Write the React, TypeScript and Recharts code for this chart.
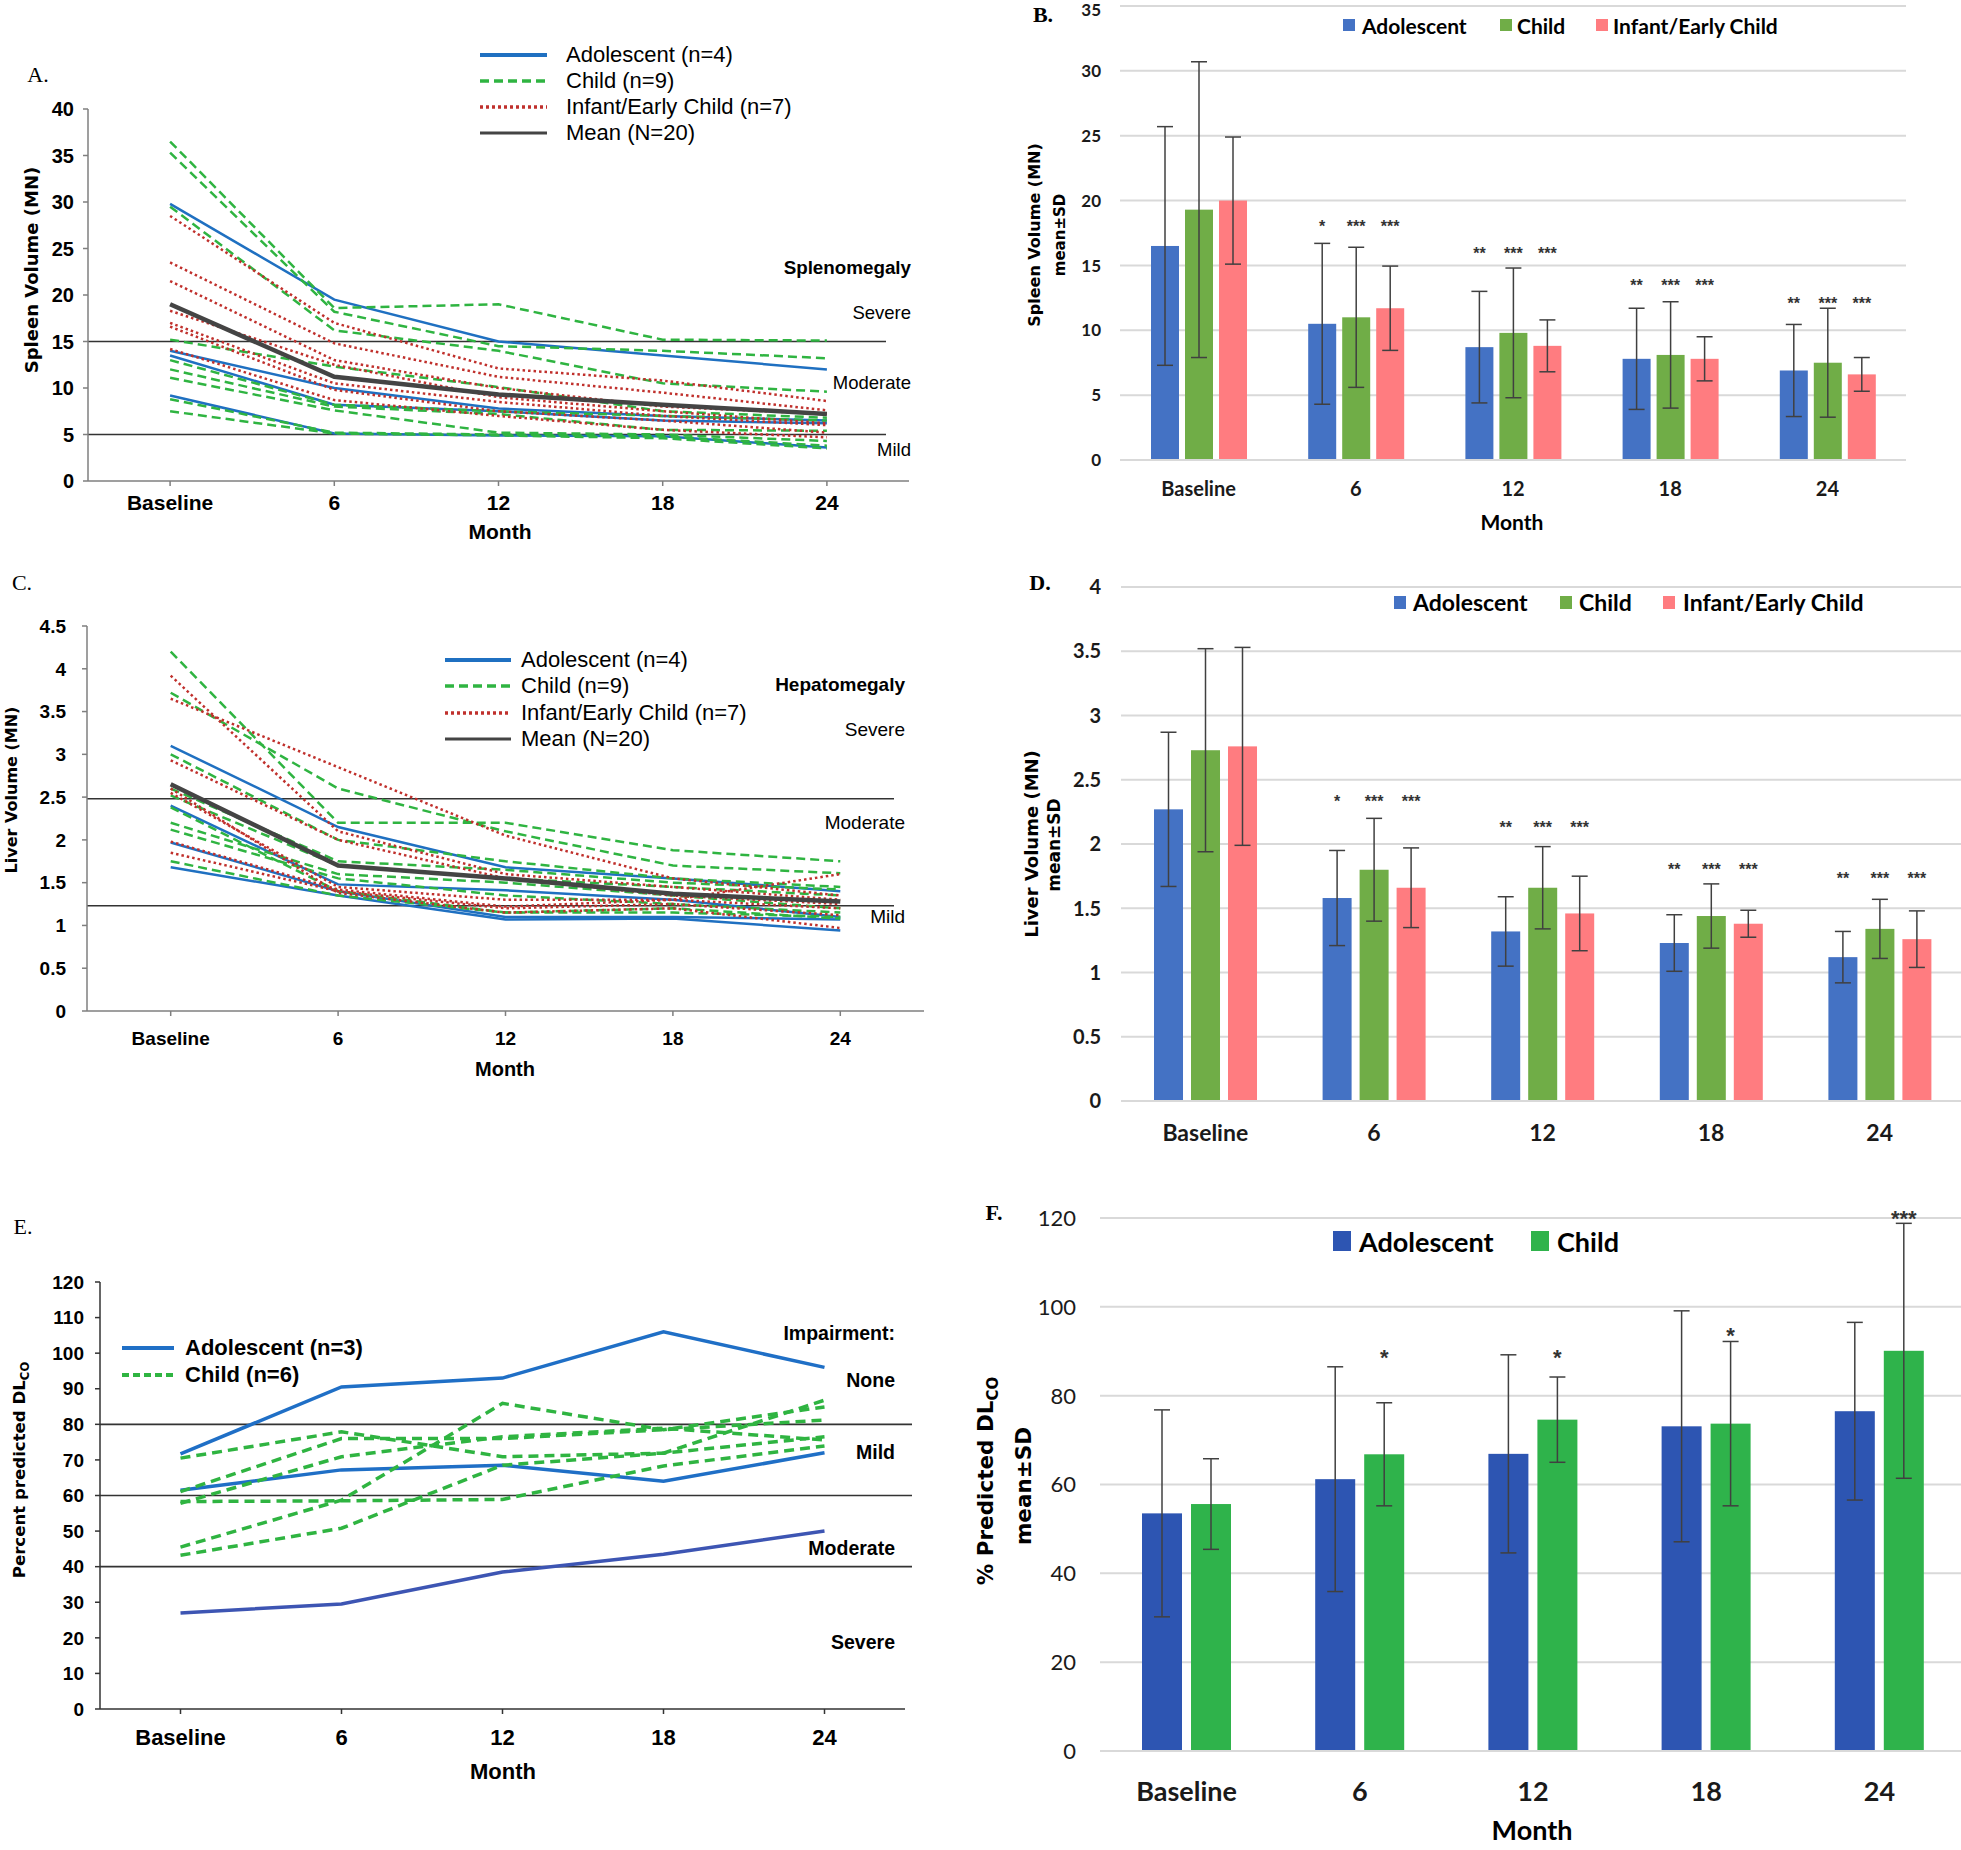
import { LineChart, Line, BarChart, Bar, XAxis, YAxis, CartesianGrid, ReferenceLine, ErrorBar } from "recharts";

const months = ["Baseline", "6", "12", "18", "24"];

// A. spleen volume (MN) per patient
const spleenAdolescent = [
  [29.8, 19.5, 15.0, 13.5, 12.0],
  [14.0, 10.0, 7.8, 7.0, 6.5],
  [13.5, 8.2, 7.5, 6.5, 6.2],
  [9.2, 5.1, 4.9, 4.8, 3.6],
];
const spleenChild = [
  [36.5, 18.6, 19.0, 15.2, 15.1],
  [35.3, 18.2, 14.5, 14.0, 13.2],
  [29.5, 16.2, 14.0, 10.5, 9.6],
  [15.2, 12.3, 10.1, 7.5, 6.8],
  [13.0, 8.2, 7.5, 7.0, 6.5],
  [12.0, 8.0, 7.2, 5.5, 5.4],
  [11.1, 7.6, 5.2, 5.0, 4.3],
  [8.8, 5.2, 5.0, 4.8, 3.8],
  [7.5, 5.1, 4.9, 4.6, 3.5],
];
const spleenInfant = [
  [28.5, 17.0, 12.1, 10.8, 8.6],
  [23.5, 14.8, 11.2, 9.5, 7.6],
  [21.5, 13.0, 10.0, 8.0, 7.2],
  [18.3, 12.5, 9.0, 7.5, 6.2],
  [17.0, 10.5, 8.5, 7.0, 6.0],
  [16.6, 9.8, 7.5, 6.5, 5.2],
  [14.2, 8.7, 7.0, 5.5, 4.7],
];
const spleenMean = [19.0, 11.2, 9.3, 8.2, 7.2];
const spleenCutoffs = [15, 5];
const spleenTicks = [0, 5, 10, 15, 20, 25, 30, 35, 40];

// B. spleen volume mean ± SD
const spleenBarAdolescent = [16.5, 10.5, 8.7, 7.8, 6.9];
const spleenBarChild = [19.3, 11.0, 9.8, 8.1, 7.5];
const spleenBarInfant = [20.0, 11.7, 8.8, 7.8, 6.6];
const spleenSdAdolescent = [9.2, 6.2, 4.3, 3.9, 3.55];
const spleenSdChild = [11.4, 5.4, 5.0, 4.1, 4.2];
const spleenSdInfant = [4.9, 3.25, 2.0, 1.7, 1.3];
const spleenStarsAdolescent = ["", "*", "**", "**", "**"];
const spleenStarsOther = ["", "***", "***", "***", "***"];
const spleenStarLevel = [0, 18.3, 16.2, 13.7, 12.35];
const spleenBarTicks = [0, 5, 10, 15, 20, 25, 30, 35];

// C. liver volume (MN) per patient
const liverAdolescent = [
  [3.1, 2.15, 1.68, 1.55, 1.4],
  [2.4, 1.48, 1.41, 1.3, 1.1],
  [1.97, 1.4, 1.1, 1.1, 1.07],
  [1.68, 1.35, 1.07, 1.08, 0.94],
];
const liverChild = [
  [4.2, 2.2, 2.2, 1.88, 1.75],
  [3.72, 2.6, 2.1, 1.7, 1.61],
  [3.0, 2.0, 1.75, 1.55, 1.45],
  [2.6, 1.75, 1.65, 1.5, 1.42],
  [2.52, 1.7, 1.55, 1.45, 1.35],
  [2.38, 1.4, 1.15, 1.2, 1.08],
  [2.2, 1.6, 1.5, 1.35, 1.2],
  [2.12, 1.55, 1.35, 1.25, 1.15],
  [1.75, 1.35, 1.15, 1.15, 1.1],
];
const liverInfant = [
  [3.92, 2.1, 1.6, 1.45, 1.3],
  [3.65, 2.85, 2.05, 1.55, 1.35],
  [2.93, 2.0, 1.55, 1.35, 1.25],
  [2.6, 1.38, 1.15, 1.2, 0.97],
  [2.55, 1.45, 1.3, 1.3, 1.6],
  [1.98, 1.42, 1.22, 1.3, 1.2],
  [1.85, 1.4, 1.2, 1.25, 1.12],
];
const liverMean = [2.65, 1.7, 1.55, 1.37, 1.28];
const liverCutoffs = [2.48, 1.23];
const liverTicks = [0, 0.5, 1, 1.5, 2, 2.5, 3, 3.5, 4, 4.5];

// D. liver volume mean ± SD
const liverBarAdolescent = [2.27, 1.58, 1.32, 1.23, 1.12];
const liverBarChild = [2.73, 1.8, 1.66, 1.44, 1.34];
const liverBarInfant = [2.76, 1.66, 1.46, 1.38, 1.26];
const liverSdAdolescent = [0.6, 0.37, 0.27, 0.22, 0.2];
const liverSdChild = [0.79, 0.4, 0.32, 0.25, 0.23];
const liverSdInfant = [0.77, 0.31, 0.29, 0.105, 0.22];
const liverStarLevel = [0, 2.36, 2.16, 1.83, 1.76];
const liverBarTicks = [0, 0.5, 1, 1.5, 2, 2.5, 3, 3.5, 4];

// E. percent predicted DLco per patient
const dlcoAdolescent = [
  [71.7, 90.5, 93, 106, 96],
  [61.5, 67.2, 68.5, 64, 72],
  [27, 29.5, 38.5, 43.5, 50],
];
const dlcoChild = [
  [70.5, 77.9, 70.9, 71.9, 76.5],
  [61.1, 76.0, 76.0, 78.5, 81.2],
  [57.8, 70.9, 76.5, 78.9, 75.6],
  [58.3, 58.5, 58.9, 68.3, 73.9],
  [45.5, 58.7, 85.9, 78.5, 84.9],
  [43.2, 50.8, 68.5, 71.9, 86.8],
];
const dlcoCutoffs = [80, 60, 40];
const dlcoTicks = [0, 10, 20, 30, 40, 50, 60, 70, 80, 90, 100, 110, 120];

// F. percent predicted DLco mean ± SD
const dlcoBarAdolescent = [53.5, 61.2, 66.9, 73.1, 76.5];
const dlcoBarChild = [55.6, 66.8, 74.6, 73.7, 90.1];
const dlcoSdAdolescent = [23.3, 25.3, 22.3, 26.0, 20.0];
const dlcoSdChild = [10.2, 11.6, 9.6, 18.5, 28.7];
const dlcoStarsChild = ["", "*", "*", "*", "***"];
const dlcoStarLevel = [0, 89.7, 89.7, 94.6, 121.1];
const dlcoBarTicks = [0, 20, 40, 60, 80, 100, 120];

const SANS = "'Liberation Sans', Arial, Helvetica, sans-serif";
const LATO = "Lato, 'Open Sans', sans-serif";
const WIDE = "'DejaVu Sans', Verdana, sans-serif";
const SERIF = "'Liberation Serif', 'Times New Roman', serif";

const BLUE = "#1f70c1";
const GREEN = "#2fb441";
const RED = "#c0302c";
const MEAN = "#444444";

function lineRows(groups: Record<string, number[][]>, mean?: number[]) {
  return months.map((m, i) => {
    const row: Record<string, string | number> = { m };
    Object.entries(groups).forEach(([k, list]) => list.forEach((s, j) => (row[k + j] = s[i])));
    if (mean) row.mean = mean[i];
    return row;
  });
}

type BarGroup = { key: string; color: string; mean: number[]; sd: number[]; stars?: string[] };

function barRows(groups: BarGroup[], starLevel: number[]) {
  return months.map((m, i) => {
    const row: Record<string, string | number> = { m, starLevel: starLevel[i] };
    groups.forEach((g) => {
      row[g.key] = g.mean[i];
      row[g.key + "Sd"] = g.sd[i];
      row[g.key + "Star"] = g.stars ? g.stars[i] : "";
    });
    return row;
  });
}

function seriesOf(prefix: string, list: number[][], stroke: string | string[], width: number, dash?: string) {
  return list.map((_, j) => ({
    key: prefix + j,
    stroke: Array.isArray(stroke) ? stroke[j] : stroke,
    width,
    dash,
  }));
}

function Txt({ x, y, size, children, weight = 400, font = SANS, align = "center", rotate = 0, color = "#000" }: any) {
  const tx = align === "center" ? "-50%" : align === "right" ? "-100%" : "0";
  return (
    <div
      style={{
        position: "absolute",
        left: x,
        top: y,
        transform: `translate(${tx}, -50%) rotate(${rotate}deg)`,
        fontFamily: font,
        fontSize: size,
        fontWeight: weight,
        color,
        whiteSpace: "nowrap",
        lineHeight: 1,
      }}
    >
      {children}
    </div>
  );
}

function KeyLine({ x1, x2, y, stroke, width, dash }: any) {
  return (
    <svg style={{ position: "absolute", left: x1, top: y - 6 }} width={x2 - x1} height={12}>
      <line x1={0} y1={6} x2={x2 - x1} y2={6} stroke={stroke} strokeWidth={width} strokeDasharray={dash} />
    </svg>
  );
}

function KeySquare({ x, y, w, h, color }: any) {
  return <div style={{ position: "absolute", left: x, top: y - h / 2, width: w, height: h, background: color }} />;
}

function LinePanel({ box, rows, lines, yMax, yTicks, cutoffs, cutEnd, yFont, xFont, yGap, xGap, axis }: any) {
  const yw = 70;
  const mt = 20;
  const mr = 20;
  const xh = 70;
  const w = box.x1 - box.x0;
  const pad = w / 10;
  return (
    <div style={{ position: "absolute", left: box.x0 - yw, top: box.y0 - mt }}>
      <LineChart
        width={w + yw + mr}
        height={box.y1 - box.y0 + mt + xh}
        data={rows}
        margin={{ top: mt, right: mr, bottom: 0, left: 0 }}
      >
        <XAxis
          dataKey="m"
          height={xh}
          padding={{ left: pad, right: pad }}
          interval={0}
          axisLine={{ stroke: axis, strokeWidth: 1.5 }}
          tickLine={{ stroke: axis, strokeWidth: 1.5 }}
          tickSize={5}
          tickMargin={xGap}
          tick={{ fontSize: xFont, fontWeight: 700, fill: "#000", fontFamily: SANS }}
        />
        <YAxis
          width={yw}
          domain={[0, yMax]}
          ticks={yTicks}
          interval={0}
          axisLine={{ stroke: axis, strokeWidth: 1.5 }}
          tickLine={{ stroke: axis, strokeWidth: 1.5 }}
          tickSize={5}
          tickMargin={yGap}
          tick={{ fontSize: yFont, fontWeight: 700, fill: "#000", fontFamily: SANS }}
        />
        {cutoffs.map((c: number) => (
          <ReferenceLine
            key={c}
            y={c}
            stroke="#333"
            strokeWidth={1.5}
            shape={(p: any) => (
              <line x1={p.x1} y1={p.y1} x2={p.x2 + cutEnd} y2={p.y2} stroke="#333" strokeWidth={1.6} />
            )}
          />
        ))}
        {lines.map((l: any) => (
          <Line
            key={l.key}
            dataKey={l.key}
            stroke={l.stroke}
            strokeWidth={l.width}
            strokeDasharray={l.dash}
            dot={false}
            activeDot={false}
            isAnimationActive={false}
          />
        ))}
      </LineChart>
    </div>
  );
}

function starBar(key: string, size: number) {
  return (p: any) => {
    const { x, y, width, height, fill, payload } = p;
    const star = payload?.[key + "Star"];
    const v = payload?.[key];
    return (
      <g>
        <rect x={x} y={y} width={width} height={height} fill={fill} />
        {star && v ? (
          <text
            x={x + width / 2}
            y={y + height - (payload.starLevel * height) / v + size * 0.57}
            textAnchor="middle"
            fontSize={size}
            fontWeight={700}
            fontFamily={SANS}
            fill="#333"
          >
            {star}
          </text>
        ) : null}
      </g>
    );
  };
}

function BarPanel({ box, rows, bars, yMax, yTicks, barSize, barGap, yFont, yWeight, xFont, xWeight, yGap, xGap, starSize }: any) {
  const yw = 70;
  const mt = 20;
  const xh = 80;
  // keep the top tick label inside the page
  const minTickY = Math.max(0, mt - box.y0) + yFont * 0.5 + 1;
  return (
    <div style={{ position: "absolute", left: box.x0 - yw, top: box.y0 - mt }}>
      <BarChart
        width={box.x1 - box.x0 + yw}
        height={box.y1 - box.y0 + mt + xh}
        data={rows}
        margin={{ top: mt, right: 0, bottom: 0, left: 0 }}
        barGap={barGap}
        barSize={barSize}
      >
        <CartesianGrid vertical={false} stroke="#d9d9d9" strokeWidth={2} />
        <XAxis
          dataKey="m"
          height={xh}
          interval={0}
          axisLine={{ stroke: "#d9d9d9", strokeWidth: 2 }}
          tickLine={false}
          tickSize={0}
          tickMargin={xGap}
          tick={{ fontSize: xFont, fontWeight: xWeight, fill: "#1a1a1a", fontFamily: LATO }}
        />
        <YAxis
          width={yw}
          domain={[0, yMax]}
          ticks={yTicks}
          interval={0}
          axisLine={false}
          tickLine={false}
          tickSize={0}
          tickMargin={yGap}
          tick={(p: any) => (
            <text
              x={p.x}
              y={Math.max(p.y, minTickY)}
              dy="0.36em"
              textAnchor="end"
              fontSize={yFont}
              fontWeight={yWeight}
              fontFamily={LATO}
              fill="#1a1a1a"
            >
              {p.payload.value}
            </text>
          )}
        />
        {bars.map((b: BarGroup) => (
          <Bar key={b.key} dataKey={b.key} fill={b.color} isAnimationActive={false} shape={starBar(b.key, starSize)}>
            <ErrorBar dataKey={b.key + "Sd"} width={8} stroke="#404040" strokeWidth={1.5} />
          </Bar>
        ))}
      </BarChart>
    </div>
  );
}

const spleenGroups: BarGroup[] = [
  { key: "adol", color: "#4472c4", mean: spleenBarAdolescent, sd: spleenSdAdolescent, stars: spleenStarsAdolescent },
  { key: "child", color: "#70ad47", mean: spleenBarChild, sd: spleenSdChild, stars: spleenStarsOther },
  { key: "infant", color: "#ff7c80", mean: spleenBarInfant, sd: spleenSdInfant, stars: spleenStarsOther },
];
const liverGroups: BarGroup[] = [
  { key: "adol", color: "#4472c4", mean: liverBarAdolescent, sd: liverSdAdolescent, stars: spleenStarsAdolescent },
  { key: "child", color: "#70ad47", mean: liverBarChild, sd: liverSdChild, stars: spleenStarsOther },
  { key: "infant", color: "#ff7c80", mean: liverBarInfant, sd: liverSdInfant, stars: spleenStarsOther },
];
const dlcoGroups: BarGroup[] = [
  { key: "adol", color: "#2d55b2", mean: dlcoBarAdolescent, sd: dlcoSdAdolescent },
  { key: "child", color: "#2fb34b", mean: dlcoBarChild, sd: dlcoSdChild, stars: dlcoStarsChild },
];

export default function App() {
  const spleenLines = [
    ...seriesOf("a", spleenAdolescent, BLUE, 2.5),
    ...seriesOf("g", spleenChild, GREEN, 2.5, "9 5"),
    ...seriesOf("r", spleenInfant, RED, 2.5, "2.5 3"),
    { key: "mean", stroke: MEAN, width: 4.5 },
  ];
  const liverLines = [
    ...seriesOf("a", liverAdolescent, BLUE, 2.5),
    ...seriesOf("g", liverChild, GREEN, 2.5, "9 5"),
    ...seriesOf("r", liverInfant, RED, 2.5, "2.5 3"),
    { key: "mean", stroke: MEAN, width: 4.5 },
  ];
  const dlcoLines = [
    ...seriesOf("a", dlcoAdolescent, ["#1f6fc6", "#1f6fc6", "#3d55b3"], 3.5),
    ...seriesOf("g", dlcoChild, GREEN, 3.5, "10 6"),
  ];

  return (
    <div style={{ position: "absolute", left: 0, top: 0, width: 1961, height: 1850, overflow: "hidden", background: "#fff" }}>
      {/* A. spleen lines */}
      <LinePanel
        box={{ x0: 88, y0: 109, x1: 909, y1: 481 }}
        rows={lineRows({ a: spleenAdolescent, g: spleenChild, r: spleenInfant }, spleenMean)}
        lines={spleenLines}
        yMax={40}
        yTicks={spleenTicks}
        cutoffs={spleenCutoffs}
        cutEnd={-23}
        yFont={20}
        xFont={21}
        yGap={9}
        xGap={9}
        axis="#7f7f7f"
      />
      <Txt x={38} y={75} size={22} font={SERIF}>A.</Txt>
      <Txt x={32} y={270} size={18} weight={700} font={WIDE} rotate={-90}>Spleen Volume (MN)</Txt>
      <Txt x={500} y={531} size={21} weight={700}>Month</Txt>
      <KeyLine x1={480} x2={547} y={55} stroke={BLUE} width={4} />
      <KeyLine x1={480} x2={547} y={81} stroke={GREEN} width={3.5} dash="9 5" />
      <KeyLine x1={480} x2={547} y={107} stroke={RED} width={3.5} dash="3 3" />
      <KeyLine x1={480} x2={547} y={133} stroke={MEAN} width={3} />
      <Txt x={566} y={55} size={22} align="left">Adolescent (n=4)</Txt>
      <Txt x={566} y={81} size={22} align="left">Child (n=9)</Txt>
      <Txt x={566} y={107} size={22} align="left">Infant/Early Child (n=7)</Txt>
      <Txt x={566} y={133} size={22} align="left">Mean (N=20)</Txt>
      <Txt x={911} y={268} size={18.8} weight={700} align="right">Splenomegaly</Txt>
      <Txt x={911} y={313} size={18.5} align="right">Severe</Txt>
      <Txt x={911} y={383} size={18.5} align="right">Moderate</Txt>
      <Txt x={911} y={450} size={18.5} align="right">Mild</Txt>

      {/* B. spleen bars */}
      <BarPanel
        box={{ x0: 1120, y0: 6, x1: 1906, y1: 460 }}
        rows={barRows(spleenGroups, spleenStarLevel)}
        bars={spleenGroups}
        yMax={35}
        yTicks={spleenBarTicks}
        barSize={28}
        barGap={6}
        yFont={17}
        yWeight={700}
        xFont={20}
        xWeight={700}
        yGap={19}
        xGap={22}
        starSize={16}
      />
      <Txt x={1043} y={15} size={22} weight={700} font={SERIF}>B.</Txt>
      <Txt x={1035} y={235} size={16} weight={700} font={WIDE} rotate={-90}>Spleen Volume (MN)</Txt>
      <Txt x={1060} y={235} size={15} weight={700} font={WIDE} rotate={-90}>mean±SD</Txt>
      <Txt x={1512} y={521} size={21} weight={700} font={LATO}>Month</Txt>
      <KeySquare x={1343} y={25} w={12} h={12} color="#4472c4" />
      <KeySquare x={1500} y={25} w={12} h={12} color="#70ad47" />
      <KeySquare x={1596} y={25} w={12} h={12} color="#ff7c80" />
      <Txt x={1362} y={25} size={21} weight={700} font={LATO} align="left">Adolescent</Txt>
      <Txt x={1517} y={25} size={21} weight={700} font={LATO} align="left">Child</Txt>
      <Txt x={1613} y={25} size={21} weight={700} font={LATO} align="left">Infant/Early Child</Txt>

      {/* C. liver lines */}
      <LinePanel
        box={{ x0: 87, y0: 626, x1: 924, y1: 1011 }}
        rows={lineRows({ a: liverAdolescent, g: liverChild, r: liverInfant }, liverMean)}
        lines={liverLines}
        yMax={4.5}
        yTicks={liverTicks}
        cutoffs={liverCutoffs}
        cutEnd={-30}
        yFont={19}
        xFont={19}
        yGap={16}
        xGap={16}
        axis="#7f7f7f"
      />
      <Txt x={22} y={583} size={22} font={SERIF}>C.</Txt>
      <Txt x={12} y={790} size={16} weight={700} font={WIDE} rotate={-90}>Liver Volume (MN)</Txt>
      <Txt x={505} y={1069} size={20} weight={700}>Month</Txt>
      <KeyLine x1={445} x2={511} y={660} stroke={BLUE} width={4} />
      <KeyLine x1={445} x2={511} y={686} stroke={GREEN} width={3.5} dash="9 5" />
      <KeyLine x1={445} x2={511} y={713} stroke={RED} width={3.5} dash="3 3" />
      <KeyLine x1={445} x2={511} y={739} stroke={MEAN} width={3} />
      <Txt x={521} y={660} size={22} align="left">Adolescent (n=4)</Txt>
      <Txt x={521} y={686} size={22} align="left">Child (n=9)</Txt>
      <Txt x={521} y={713} size={22} align="left">Infant/Early Child (n=7)</Txt>
      <Txt x={521} y={739} size={22} align="left">Mean (N=20)</Txt>
      <Txt x={905} y={684} size={19} weight={700} align="right">Hepatomegaly</Txt>
      <Txt x={905} y={729} size={19} align="right">Severe</Txt>
      <Txt x={905} y={822} size={19} align="right">Moderate</Txt>
      <Txt x={905} y={916} size={19} align="right">Mild</Txt>

      {/* D. liver bars */}
      <BarPanel
        box={{ x0: 1121, y0: 586.5, x1: 1964, y1: 1100.6 }}
        rows={barRows(liverGroups, liverStarLevel)}
        bars={liverGroups}
        yMax={4}
        yTicks={liverBarTicks}
        barSize={29}
        barGap={8}
        yFont={20}
        yWeight={700}
        xFont={23}
        xWeight={700}
        yGap={20}
        xGap={24}
        starSize={16}
      />
      <Txt x={1040} y={583} size={22} weight={700} font={SERIF}>D.</Txt>
      <Txt x={1032} y={844} size={18} weight={700} font={WIDE} rotate={-90}>Liver Volume (MN)</Txt>
      <Txt x={1054} y={845} size={17} weight={700} font={WIDE} rotate={-90}>mean±SD</Txt>
      <KeySquare x={1394} y={602} w={12} h={13} color="#4472c4" />
      <KeySquare x={1560} y={602} w={12} h={13} color="#70ad47" />
      <KeySquare x={1663} y={602} w={12} h={13} color="#ff7c80" />
      <Txt x={1413} y={602} size={23} weight={700} font={LATO} align="left">Adolescent</Txt>
      <Txt x={1579} y={602} size={23} weight={700} font={LATO} align="left">Child</Txt>
      <Txt x={1683} y={602} size={23} weight={700} font={LATO} align="left">Infant/Early Child</Txt>

      {/* E. DLco lines */}
      <LinePanel
        box={{ x0: 100, y0: 1282, x1: 905, y1: 1709 }}
        rows={lineRows({ a: dlcoAdolescent, g: dlcoChild })}
        lines={dlcoLines}
        yMax={120}
        yTicks={dlcoTicks}
        cutoffs={dlcoCutoffs}
        cutEnd={7}
        yFont={19}
        xFont={22}
        yGap={11}
        xGap={15}
        axis="#333333"
      />
      <Txt x={23} y={1227} size={22} font={SERIF}>E.</Txt>
      <Txt x={22} y={1470} size={16.6} weight={700} font={WIDE} rotate={-90}>
        Percent predicted DL<sub style={{ fontSize: "0.7em" }}>CO</sub>
      </Txt>
      <Txt x={503} y={1772} size={22} weight={700}>Month</Txt>
      <KeyLine x1={122} x2={174} y={1347.5} stroke="#1f6fc6" width={4} />
      <KeyLine x1={122} x2={174} y={1375} stroke={GREEN} width={4} dash="7 4" />
      <Txt x={185} y={1347.5} size={22} weight={700} align="left">Adolescent (n=3)</Txt>
      <Txt x={185} y={1375} size={22} weight={700} align="left">Child (n=6)</Txt>
      <Txt x={895} y={1334} size={19.5} weight={700} align="right">Impairment:</Txt>
      <Txt x={895} y={1381} size={19.5} weight={700} align="right">None</Txt>
      <Txt x={895} y={1453} size={19.5} weight={700} align="right">Mild</Txt>
      <Txt x={895} y={1549} size={19.5} weight={700} align="right">Moderate</Txt>
      <Txt x={895} y={1643} size={19.5} weight={700} align="right">Severe</Txt>

      {/* F. DLco bars */}
      <BarPanel
        box={{ x0: 1100, y0: 1218, x1: 1966, y1: 1751 }}
        rows={barRows(dlcoGroups, dlcoStarLevel)}
        bars={dlcoGroups}
        yMax={120}
        yTicks={dlcoBarTicks}
        barSize={40}
        barGap={9}
        yFont={22}
        yWeight={400}
        xFont={27}
        xWeight={700}
        yGap={24}
        xGap={31}
        starSize={22}
      />
      <Txt x={994} y={1213} size={22} weight={700} font={SERIF}>F.</Txt>
      <Txt x={988} y={1481} size={21.5} weight={700} font={WIDE} rotate={-90}>
        % Predicted DL<sub style={{ fontSize: "0.7em" }}>CO</sub>
      </Txt>
      <Txt x={1024} y={1486} size={21.5} weight={700} font={WIDE} rotate={-90}>mean±SD</Txt>
      <Txt x={1532} y={1829} size={27} weight={700} font={LATO}>Month</Txt>
      <KeySquare x={1333} y={1241} w={18} h={20} color="#2d55b2" />
      <KeySquare x={1531} y={1241} w={18} h={20} color="#2fb34b" />
      <Txt x={1359} y={1241} size={27} weight={700} font={LATO} align="left">Adolescent</Txt>
      <Txt x={1557} y={1241} size={27} weight={700} font={LATO} align="left">Child</Txt>
    </div>
  );
}
